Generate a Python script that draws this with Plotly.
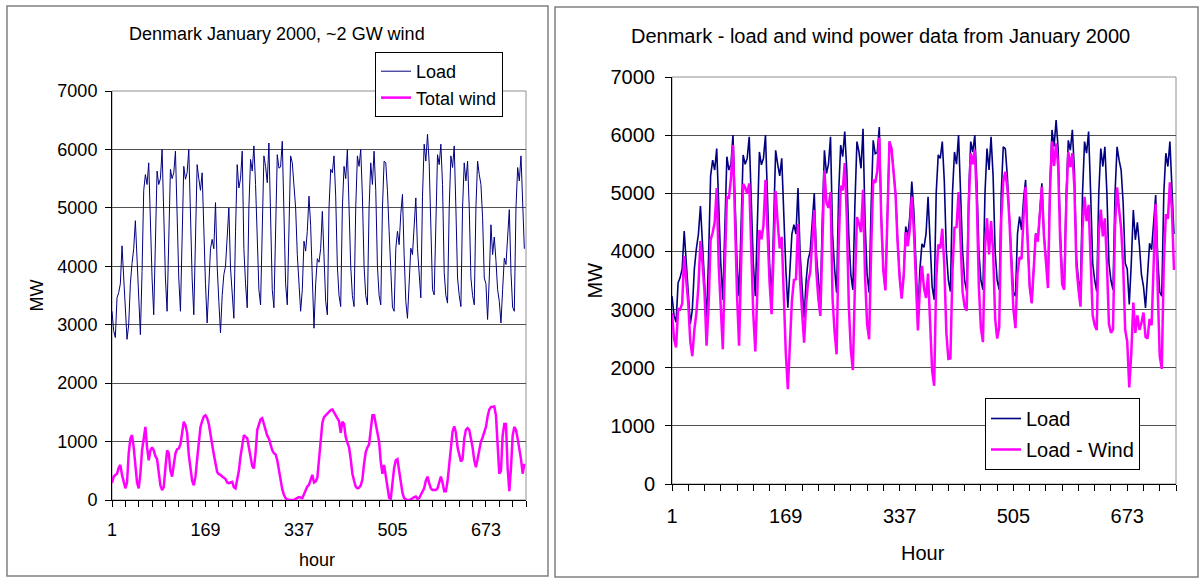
import plotly.graph_objects as go

# ---------------- data ----------------
# hour index of each sample (every 3rd hour of January 2000)
hours = list(range(1, 743, 3))

# Load, MW  (8 samples per day: hours of day 1,4,7,10,13,16,19,22)
load_mw = [
    3230, 2900, 2780, 3460, 3550, 3700, 4350, 3800,   # day 1
    3300, 2750, 3000, 3700, 4050, 4300, 4780, 4100,   # day 2
    3500, 2830, 3910, 5300, 5570, 5400, 5770, 4600,   # day 3
    3800, 3170, 4500, 5630, 5400, 5500, 6000, 4700,   # day 4
    3800, 3230, 4500, 5660, 5500, 5600, 5970, 4700,   # day 5
    3800, 3230, 4500, 5710, 5490, 5600, 6000, 4800,   # day 6
    3800, 3170, 4500, 5740, 5500, 5300, 5600, 4500,   # day 7
    3700, 3030, 3700, 4300, 4460, 4300, 5090, 4000,   # day 8
    3400, 2860, 3500, 3860, 4000, 4500, 5000, 3970,   # day 9
    3500, 3110, 4600, 5740, 5340, 5500, 5970, 4300,   # day 10
    3700, 3290, 5000, 5830, 5630, 6060, 5400, 4260,   # day 11
    3600, 3340, 4800, 5890, 5710, 5430, 6110, 4500,   # day 12
    3600, 3290, 4800, 5910, 5680, 5700, 6140, 4600,   # day 13
    3700, 3340, 4600, 5890, 5770, 5300, 5000, 4200,   # day 14
    3600, 3230, 3600, 4430, 4260, 4600, 5200, 4700,   # day 15
    3800, 2940, 3700, 4130, 4070, 4300, 4940, 4200,   # day 16
    3400, 3170, 5000, 5660, 5600, 5890, 5200, 4000,   # day 17
    3500, 3310, 5000, 5710, 5500, 6000, 5000, 4000,   # day 18
    3500, 3310, 5000, 5890, 5710, 6000, 5200, 4000,   # day 19
    3500, 3340, 5000, 5770, 5400, 5970, 5300, 4000,   # day 20
    3500, 3340, 5000, 5800, 5770, 5300, 4600, 3900,   # day 21
    3300, 3230, 4300, 4600, 4370, 4900, 5230, 4200,   # day 22
    3400, 3110, 3700, 4310, 4200, 4700, 5170, 4300,   # day 23
    3800, 3460, 5200, 6090, 5800, 6260, 5770, 4400,   # day 24
    3600, 3510, 5000, 5910, 5740, 6090, 5400, 3900,   # day 25
    3500, 3370, 5000, 5890, 5690, 6060, 5000, 3800,   # day 26
    3500, 3310, 5000, 5770, 5460, 5800, 5000, 3800,   # day 27
    3500, 3340, 5000, 5800, 5570, 5400, 4830, 3800,   # day 28
    3700, 3090, 3800, 4710, 4200, 4500, 4100, 3600,   # day 29
    3400, 3030, 3600, 4140, 4030, 4500, 4970, 3900,   # day 30
    3300, 3230, 5000, 5690, 5460, 5890, 5170, 4300,   # day 31
]

# Total wind power, MW (same sample hours)
wind_mw = [
    290, 400, 430, 450, 550, 600, 430, 330,           # day 1
    200, 300, 800, 1050, 1110, 900, 600, 300,         # day 2
    200, 450, 850, 1100, 1250, 900, 680, 850,         # day 3
    900, 850, 750, 700, 480, 250, 170, 220,           # day 4
    550, 850, 800, 500, 400, 600, 800, 870,           # day 5
    880, 950, 1170, 1340, 1280, 1150, 770, 500,       # day 6
    330, 250, 400, 700, 1000, 1250, 1350, 1430,       # day 7
    1450, 1400, 1300, 1150, 950, 780, 620, 480,       # day 8
    440, 430, 400, 380, 360, 300, 290, 300,           # day 9
    310, 220, 200, 350, 500, 750, 950, 1110,          # day 10
    1080, 1060, 900, 700, 580, 540, 800, 1200,        # day 11
    1300, 1380, 1400, 1300, 1230, 1100, 1050, 930,    # day 12
    850, 800, 780, 680, 500, 320, 180, 90,            # day 13
    30, 10, 0, 0, 0, 0, 20, 40,                       # day 14
    50, 40, 30, 100, 170, 230, 260, 330,              # day 15
    430, 300, 320, 380, 700, 1100, 1320, 1420,        # day 16
    1450, 1480, 1500, 1540, 1550, 1500, 1440, 1400,   # day 17
    1350, 1150, 1340, 1300, 1080, 980, 900, 700,      # day 18
    450, 330, 230, 200, 210, 250, 350, 620,           # day 19
    820, 900, 950, 1200, 1450, 1450, 1290, 1150,      # day 20
    1000, 650, 450, 600, 400, 200, 40, 20,            # day 21
    300, 550, 680, 700, 500, 300, 120, 30,            # day 22
    10, 0, 0, 10, 30, 50, 60, 20,                     # day 23
    30, 90, 150, 200, 330, 400, 290, 200,             # day 24
    170, 170, 170, 200, 290, 400, 300, 150,           # day 25
    150, 320, 600, 950, 1170, 1260, 1150, 900,        # day 26
    770, 660, 700, 1050, 1200, 1230, 1200, 1050,      # day 27
    900, 680, 560, 700, 850, 1000, 1070, 1150,        # day 28
    1250, 1430, 1550, 1590, 1600, 1600, 1450, 830,    # day 29
    450, 500, 1100, 1300, 1300, 550, 150, 550,        # day 30
    1100, 1250, 1200, 1050, 900, 700, 450, 620,       # day 31
]

# Load minus wind (right panel)
net_mw = [l - w for l, w in zip(load_mw, wind_mw)]

x_tick_vals = [1, 169, 337, 505, 673]
x_tick_text = ["1", "169", "337", "505", "673"]
y_tick_vals = [0, 1000, 2000, 3000, 4000, 5000, 6000, 7000]
y_tick_text = ["0", "1000", "2000", "3000", "4000", "5000", "6000", "7000"]

# ---------------- layout helpers ----------------
W, H = 1203, 585
FONT = "Liberation Sans, Arial, sans-serif"
NAVY = "#000080"
MAGENTA = "#FF00FF"
GRID = "#505050"


def fx(px):
    return px / W


def fy(py):
    return 1 - py / H


fig = go.Figure()

fig.add_trace(go.Scatter(x=hours, y=load_mw, mode="lines", name="Load",
                         line=dict(color=NAVY, width=1),
                         xaxis="x", yaxis="y", legend="legend"))
fig.add_trace(go.Scatter(x=hours, y=wind_mw, mode="lines", name="Total wind",
                         line=dict(color=MAGENTA, width=2.5),
                         xaxis="x", yaxis="y", legend="legend"))
fig.add_trace(go.Scatter(x=hours, y=load_mw, mode="lines", name="Load",
                         line=dict(color=NAVY, width=1.6),
                         xaxis="x2", yaxis="y2", legend="legend2", legendgroup="r1"))
fig.add_trace(go.Scatter(x=hours, y=net_mw, mode="lines", name="Load - Wind",
                         line=dict(color=MAGENTA, width=2.5),
                         xaxis="x2", yaxis="y2", legend="legend2", legendgroup="r2"))


def xaxis_style(domain, anchor, size, standoff):
    return dict(domain=domain, anchor=anchor, range=[1, 745], automargin=False,
                tickmode="array", tickvals=x_tick_vals, ticktext=x_tick_text,
                ticks="outside", ticklen=6, tickcolor="black", tickwidth=1,
                ticklabelstandoff=standoff,
                showline=True, linecolor="black", linewidth=1,
                showgrid=False, zeroline=False,
                tickfont=dict(family=FONT, size=size, color="black"),
                minor=dict(tickmode="linear", tick0=1, dtick=24, ticks="outside",
                           ticklen=6, tickcolor="black", tickwidth=1, showgrid=False))


def yaxis_style(domain, anchor, size, standoff):
    return dict(domain=domain, anchor=anchor, range=[0, 7000], automargin=False,
                tickmode="array", tickvals=y_tick_vals, ticktext=y_tick_text,
                ticks="outside", ticklen=6, tickcolor="black", tickwidth=1,
                ticklabelstandoff=standoff,
                showline=True, linecolor="black", linewidth=1,
                showgrid=True, gridcolor=GRID, gridwidth=1, zeroline=False,
                tickfont=dict(family=FONT, size=size, color="black"))


fig.update_layout(
    width=W, height=H,
    margin=dict(l=0, r=0, t=0, b=0, autoexpand=False),
    paper_bgcolor="white", plot_bgcolor="white",
    font=dict(family=FONT, color="black"),
    showlegend=True,
    xaxis=xaxis_style([fx(112), fx(526)], "y", 18, 7),
    yaxis=yaxis_style([fy(500), fy(91)], "x", 18, 4),
    xaxis2=xaxis_style([fx(672), fx(1176)], "y2", 20, 8),
    yaxis2=yaxis_style([fy(484), fy(77)], "x2", 20, 6),
    legend=dict(x=fx(375), y=fy(52), xanchor="left", yanchor="top",
                bgcolor="white", bordercolor="black", borderwidth=1,
                font=dict(family=FONT, size=18, color="black"),
                itemclick=False, itemdoubleclick=False),
    legend2=dict(x=fx(985), y=fy(398), xanchor="left", yanchor="top",
                 bgcolor="white", bordercolor="black", borderwidth=1,
                 font=dict(family=FONT, size=20, color="black"),
                 tracegroupgap=2, itemclick=False, itemdoubleclick=False),
)

# panel frames and plot-area borders
shapes = [
    dict(type="rect", xref="paper", yref="paper", x0=fx(7), x1=fx(548), y0=fy(576), y1=fy(6),
         line=dict(color="#808080", width=1.5), layer="below"),
    dict(type="rect", xref="paper", yref="paper", x0=fx(555), x1=fx(1198), y0=fy(577), y1=fy(7),
         line=dict(color="#808080", width=1.5), layer="below"),
    dict(type="rect", xref="x domain", yref="y domain", x0=0, x1=1, y0=0, y1=1,
         line=dict(color="#909090", width=1), layer="below"),
    dict(type="rect", xref="x2 domain", yref="y2 domain", x0=0, x1=1, y0=0, y1=1,
         line=dict(color="#909090", width=1), layer="below"),
]
fig.update_layout(shapes=shapes)

annotations = [
    dict(text="Denmark January 2000, ~2 GW wind", x=fx(276.5), y=fy(33.5),
         font=dict(size=18)),
    dict(text="Denmark - load and wind power data from January 2000", x=fx(880), y=fy(36),
         font=dict(size=20)),
    dict(text="hour", x=fx(317), y=fy(560), font=dict(size=18)),
    dict(text="Hour", x=fx(923.5), y=fy(553), font=dict(size=20)),
    dict(text="MW", x=fx(36), y=fy(295.5), textangle=-90, font=dict(size=18)),
    dict(text="MW", x=fx(594), y=fy(280.5), textangle=-90, font=dict(size=20)),
]
for a in annotations:
    a.update(xref="paper", yref="paper", xanchor="center", yanchor="middle",
             showarrow=False)
    a["font"].update(family=FONT, color="black")
fig.update_layout(annotations=annotations)

fig.write_html(
    "out.html",
    config={"displayModeBar": False},
    post_script="document.body.style.margin='0px';document.body.style.overflow='hidden';",
)
